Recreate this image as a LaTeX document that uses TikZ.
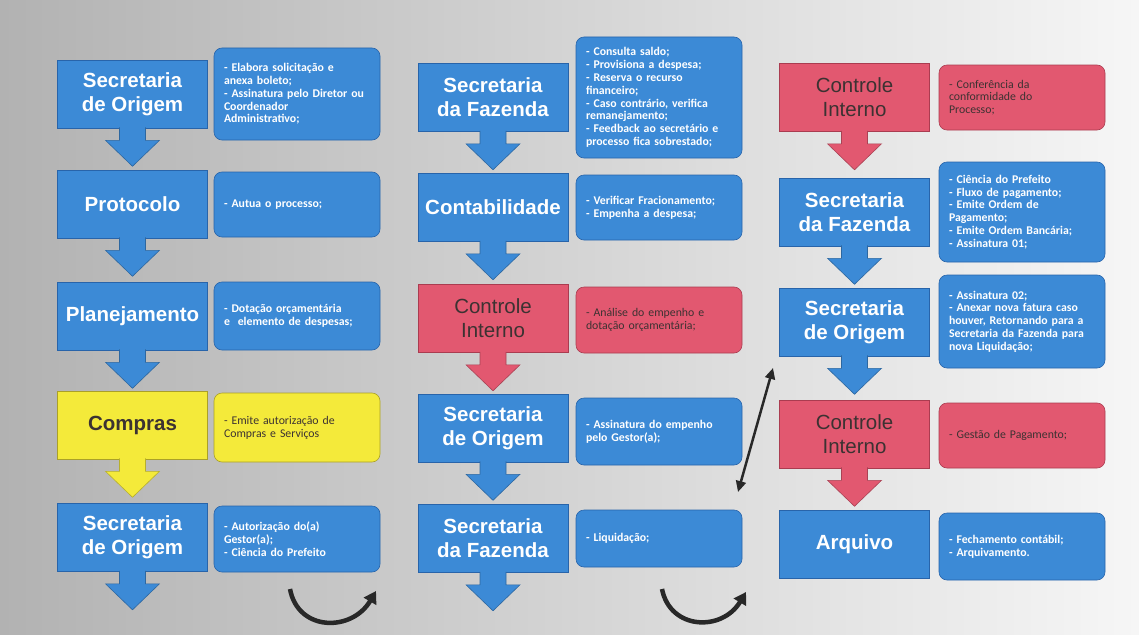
\documentclass[tikz,border=0pt]{standalone}
\usepackage{fontspec}
\setmainfont{Liberation Sans}
\newfontfamily\descfont{Carlito}
\usetikzlibrary{calc,arrows.meta}
\definecolor{cblue}{RGB}{60,138,214}
\definecolor{cbluel}{RGB}{40,100,170}
\definecolor{cred}{RGB}{226,88,112}
\definecolor{credl}{RGB}{170,60,80}
\definecolor{cyel}{RGB}{244,234,58}
\definecolor{cyell}{RGB}{170,160,40}
\definecolor{dtext}{RGB}{60,50,50}
\definecolor{bgl}{RGB}{178,178,178}
\definecolor{bgr}{RGB}{246,246,246}
\definecolor{arrk}{RGB}{40,40,40}
\newcommand\dnarrow[2]{%
  \filldraw[fill=#2, draw=#2!75!black, line width=0.6pt]
    ($(#1.south)+(-13,-1)$) -- ($(#1.south)+(-13,12)$) -- ($(#1.south)+(-27,12)$)
    -- ($(#1.south)+(0,38)$) -- ($(#1.south)+(27,12)$) -- ($(#1.south)+(13,12)$)
    -- ($(#1.south)+(13,-1)$);}
\tikzset{
  mainbox/.style={rectangle, minimum width=150pt, minimum height=68pt, inner sep=2pt,
    align=center, font=\fontsize{20.5}{24}\selectfont\bfseries, line width=0.6pt},
  bluemain/.style={mainbox, fill=cblue, draw=cbluel, text=white},
  redmain/.style={mainbox, fill=cred, draw=credl, text=dtext, font=\fontsize{20.5}{24}\selectfont},
  yelmain/.style={mainbox, fill=cyel, draw=cyell, text=dtext},
  descbox/.style={rectangle, rounded corners=8pt, minimum height=#1, text width=146pt,
    inner xsep=10pt, inner ysep=3pt, align=left, line width=0.6pt},
  bluedesc/.style={descbox=#1, fill=cblue, draw=cbluel, text=white,
    font=\descfont\bfseries\fontsize{11.8}{12.8}\selectfont},
  reddesc/.style={descbox=#1, fill=cred, draw=credl, text=dtext,
    font=\descfont\fontsize{11.8}{12.8}\selectfont},
  yeldesc/.style={descbox=#1, fill=cyel, draw=cyell, text=dtext,
    font=\descfont\fontsize{11.8}{12.8}\selectfont},
  dblarr/.style={{Triangle[length=11pt,width=10pt]}-{Triangle[length=11pt,width=10pt]}, line width=2.5pt, draw=arrk},
  curvarr/.style={-{Triangle[length=12pt,width=14pt]}, line width=4.5pt, draw=arrk},
}
\begin{document}
\begin{tikzpicture}[x=1pt,y=-1pt]
\shade[left color=bgl, right color=bgr] (0,0) rectangle (1139,634);
\useasboundingbox (0,0) rectangle (1139,634);
% column 1
\node[bluemain] (a1) at (132.5,94) {Secretaria\\de Origem};
\node[bluemain] (a2) at (132.5,204) {Protocolo};
\node[bluemain] (a3) at (132.5,316) {Planejamento};
\node[yelmain]  (a4) at (132.5,425) {Compras};
\node[bluemain] (a5) at (132.5,537.5) {Secretaria\\de Origem};
\dnarrow{a1}{cblue}\dnarrow{a2}{cblue}\dnarrow{a3}{cblue}\dnarrow{a4}{cyel}\dnarrow{a5}{cblue}
\node[bluedesc=92pt] (da1) at (297,94) {- Elabora solicitação e\\anexa boleto;\\- Assinatura pelo Diretor ou\\Coordenador\\Administrativo;};
\node[bluedesc=65pt] (da2) at (297,204.5) {- Autua o processo;};
\node[bluedesc=68pt] (da3) at (297,316) {- Dotação orçamentária\\e\ \ elemento de despesas;};
\node[yeldesc=69pt]  (da4) at (297,427.5) {- Emite autorização de\\Compras e Serviços};
\node[bluedesc=66pt] (da5) at (297,539) {- Autorização do(a)\\Gestor(a);\\- Ciência do Prefeito};
% column 2
\node[bluemain] (b1) at (493,97.5) {Secretaria\\da Fazenda};
\node[bluemain] (b2) at (493,207.5) {Contabilidade};
\node[redmain]  (b3) at (493,318.5) {Controle\\Interno};
\node[bluemain] (b4) at (493,428) {Secretaria\\de Origem};
\node[bluemain] (b5) at (493,538.5) {Secretaria\\da Fazenda};
\dnarrow{b1}{cblue}\dnarrow{b2}{cblue}\dnarrow{b3}{cred}\dnarrow{b4}{cblue}\dnarrow{b5}{cblue}
\node[bluedesc=121pt] (db1) at (659,97.5) {- Consulta saldo;\\- Provisiona a despesa;\\- Reserva o recurso\\financeiro;\\- Caso contrário, verifica\\remanejamento;\\- Feedback ao secretário e\\processo fica sobrestado;};
\node[bluedesc=65pt] (db2) at (659,207.5) {- Verificar Fracionamento;\\- Empenha a despesa;};
\node[reddesc=66pt]  (db3) at (659,320) {- Análise do empenho e\\dotação orçamentária;};
\node[bluedesc=67pt] (db4) at (659,431.5) {- Assinatura do empenho\\pelo Gestor(a);};
\node[bluedesc=57pt] (db5) at (659,538.5) {- Liquidação;};
% column 3
\node[redmain]  (c1) at (854.5,97.5) {Controle\\Interno};
\node[bluemain] (c2) at (854.5,212) {Secretaria\\da Fazenda};
\node[bluemain] (c3) at (854.5,322) {Secretaria\\de Origem};
\node[redmain]  (c4) at (854.5,434) {Controle\\Interno};
\node[bluemain] (c5) at (854.5,544) {Arquivo};
\dnarrow{c1}{cred}\dnarrow{c2}{cblue}\dnarrow{c3}{cblue}\dnarrow{c4}{cred}
\node[reddesc=65pt]   (dc1) at (1022,97.5) {- Conferência da\\conformidade do\\Processo;};
\node[bluedesc=100pt] (dc2) at (1022,212) {- Ciência do Prefeito\\- Fluxo de pagamento;\\- Emite Ordem de\\Pagamento;\\- Emite Ordem Bancária;\\- Assinatura 01;};
\node[bluedesc=93pt]  (dc3) at (1022,321.5) {- Assinatura 02;\\- Anexar nova fatura caso\\houver, Retornando para a\\Secretaria da Fazenda para\\nova Liquidação;};
\node[reddesc=65pt]   (dc4) at (1022,435.5) {- Gestão de Pagamento;};
\node[bluedesc=67pt]  (dc5) at (1022,546.5) {- Fechamento contábil;\\- Arquivamento.};
% black arrows
\coordinate (d1) at (773,368);
\coordinate (d2) at (738,492);
\draw[dblarr] (d1) -- (d2);
\coordinate (ca1) at (290,589);
\coordinate (ca2) at (376,591);
\draw[curvarr] (ca1) .. controls (298,632) and (352,632) .. (ca2);
\coordinate (cb1) at (662,589);
\coordinate (cb2) at (746,592);
\draw[curvarr] (cb1) .. controls (670,630) and (722,632) .. (cb2);
\end{tikzpicture}
\end{document}
